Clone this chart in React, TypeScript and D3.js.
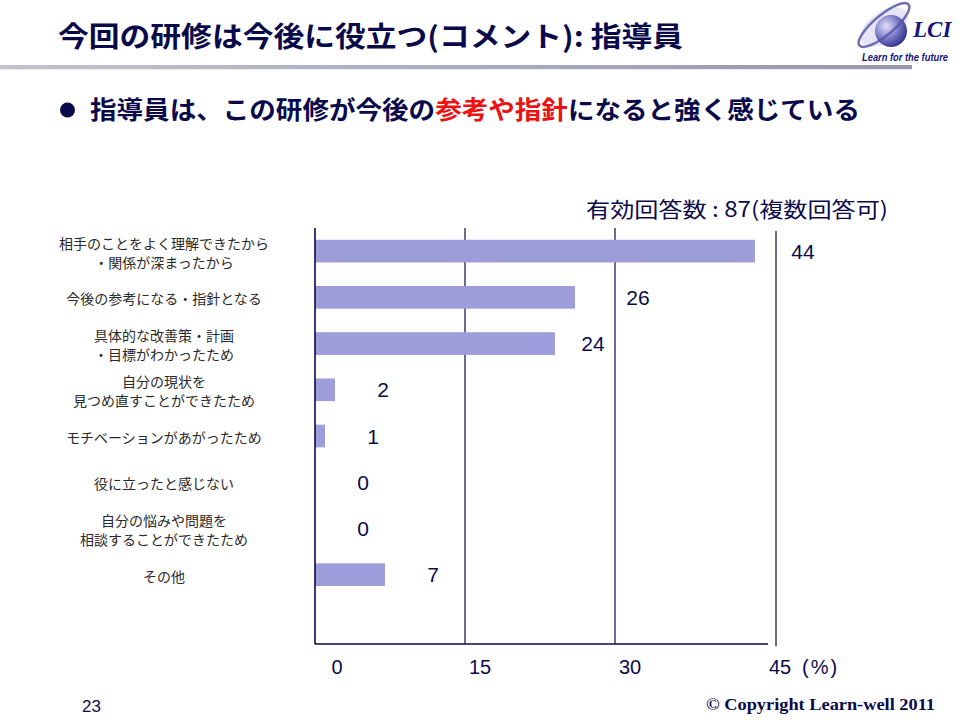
import React from "react";
import * as d3 from "d3";

const categoryLabels: string[][] = [
  ["相手のことをよく理解できたから", "・関係が深まったから"],
  ["今後の参考になる・指針となる"],
  ["具体的な改善策・計画", "・目標がわかったため"],
  ["自分の現状を", "見つめ直すことができたため"],
  ["モチベーションがあがったため"],
  ["役に立ったと感じない"],
  ["自分の悩みや問題を", "相談することができたため"],
  ["その他"],
];
const values: number[] = [44, 26, 24, 2, 1, 0, 0, 7];
const xTicks: number[] = [0, 15, 30, 45];
const gridTicks: number[] = [15, 30];

const titleText = "今回の研修は今後に役立つ(コメント): 指導員";
const subtitleParts: { t: string; red: boolean }[] = [
  { t: "指導員は、この研修が今後の", red: false },
  { t: "参考や指針", red: true },
  { t: "になると強く感じている", red: false },
];
const noteText = "有効回答数 : 87(複数回答可)";
const unitText = "(%)";
const pageNo = "23";
const copyright = "© Copyright Learn-well 2011";

const NAVY = "#0a0a4a";
const BAR = "#9d9ddb";
const CJK = "'Noto Sans CJK JP', 'Noto Sans', sans-serif";
const SANS = "'Liberation Sans', Arial, sans-serif";
const SERIF = "'Liberation Serif', 'Times New Roman', serif";

export default function App() {
  const W = 960;
  const H = 720;
  const top = 228;
  const bottom = 644;

  const x = d3.scaleLinear().domain([0, 45]).range([315, 765]);
  const y = d3
    .scaleBand<number>()
    .domain(d3.range(categoryLabels.length + 1))
    .range([top, bottom])
    .paddingInner(0.51)
    .paddingOuter(0.255);

  // value label x: to the right of the bar end, nudged off the gridlines
  const labelX = (v: number) => {
    let cx = x(v) + 48;
    for (const g of gridTicks) {
      const gx = x(g);
      if (Math.abs(cx - gx) < 14) cx = cx < gx ? gx - 22 : gx + 23;
    }
    return cx;
  };

  return (
    <svg
      width={W}
      height={H}
      viewBox={`0 0 ${W} ${H}`}
      style={{ position: "absolute", left: 0, top: 0, background: "#fff" }}
    >
      <defs>
        <linearGradient id="rule" x1="0" x2="1" y1="0" y2="0">
          <stop offset="0" stopColor="#c2c2d2" />
          <stop offset="1" stopColor="#9696ac" />
        </linearGradient>
        <radialGradient id="globe" cx="0.35" cy="0.35" r="0.75">
          <stop offset="0" stopColor="#e2e2f8" />
          <stop offset="0.5" stopColor="#7c7cc8" />
          <stop offset="1" stopColor="#262680" />
        </radialGradient>
      </defs>

      {/* Title */}
      <text
        x={58}
        y={47}
        fontFamily={CJK}
        fontWeight={700}
        fontSize={28}
        fill={NAVY}
        textLength={625}
        lengthAdjust="spacingAndGlyphs"
      >
        {titleText}
      </text>

      {/* header rule */}
      <rect x={0} y={65} width={912} height={4} fill="url(#rule)" />
      <rect x={0} y={69} width={912} height={1} fill="#ececf2" />

      {/* Logo */}
      <g>
        <ellipse cx={884} cy={27} rx={27} ry={15} transform="rotate(-35 884 27)" fill="#cfcff0" opacity={0.55} />
        <circle cx={891} cy={31} r={16} fill="url(#globe)" />
        <ellipse
          cx={884}
          cy={25}
          rx={32}
          ry={10}
          transform="rotate(-40 884 25)"
          fill="none"
          stroke="#5656a6"
          strokeWidth={2.5}
          opacity={0.85}
        />
        <text x={913} y={37} fontFamily={SERIF} fontStyle="italic" fontWeight={700} fontSize={23} fill="#14147a">
          LCI
        </text>
        <text
          x={862}
          y={61}
          fontFamily={SANS}
          fontStyle="italic"
          fontWeight={700}
          fontSize={10}
          fill="#14147a"
          textLength={86}
          lengthAdjust="spacingAndGlyphs"
        >
          Learn for the future
        </text>
      </g>

      {/* Subtitle */}
      <circle cx={67.5} cy={110} r={7.5} fill={NAVY} />
      <text
        x={90}
        y={119}
        fontFamily={CJK}
        fontWeight={700}
        fontSize={25}
        fill={NAVY}
        textLength={770}
        lengthAdjust="spacingAndGlyphs"
      >
        {subtitleParts.map((p, i) => (
          <tspan key={i} fill={p.red ? "#ee1111" : NAVY}>
            {p.t}
          </tspan>
        ))}
      </text>

      {/* note */}
      <text
        x={586}
        y={217}
        fontFamily={CJK}
        fontSize={21}
        fill={NAVY}
        textLength={302}
        lengthAdjust="spacingAndGlyphs"
      >
        {noteText}
      </text>

      {/* gridlines */}
      {gridTicks.map((t) => (
        <line key={t} x1={x(t)} x2={x(t)} y1={top} y2={bottom} stroke={NAVY} strokeWidth={1.2} />
      ))}

      {/* bars */}
      {values.map((v, i) => (
        <rect key={i} x={x(0)} y={y(i)!} width={x(v) - x(0)} height={y.bandwidth()} fill={BAR} />
      ))}

      {/* axes */}
      <line x1={x(0)} x2={x(0)} y1={top} y2={bottom} stroke={NAVY} strokeWidth={1.6} />
      <line x1={x(0)} x2={x(45) + 3} y1={bottom} y2={bottom} stroke={NAVY} strokeWidth={1.6} />
      <line x1={x(45) + 11} x2={x(45) + 11} y1={top + 3} y2={bottom + 2} stroke={NAVY} strokeWidth={1.2} />

      {/* value labels */}
      {values.map((v, i) => (
        <text
          key={i}
          x={labelX(v)}
          y={y(i)! + y.bandwidth() / 2}
          dy="0.36em"
          textAnchor="middle"
          fontFamily={SANS}
          fontSize={21}
          fill={NAVY}
        >
          {v}
        </text>
      ))}

      {/* category labels */}
      {categoryLabels.map((lines, i) => {
        const cy = y(i)! + y.bandwidth() / 2 + 2;
        const lh = 19;
        const start = cy - ((lines.length - 1) * lh) / 2;
        return (
          <text key={i} textAnchor="middle" fontFamily={CJK} fontSize={14} fill="#2a2a2a">
            {lines.map((l, j) => (
              <tspan key={j} x={164} y={start + j * lh} dy="0.36em">
                {l}
              </tspan>
            ))}
          </text>
        );
      })}

      {/* x tick labels */}
      {xTicks.map((t) => (
        <text
          key={t}
          x={x(t) + (t === 0 ? 22 : 15)}
          y={674}
          textAnchor="middle"
          fontFamily={SANS}
          fontSize={20}
          fill={NAVY}
        >
          {t}
        </text>
      ))}
      <text x={x(45) + 37} y={674} fontFamily={SANS} fontSize={20} fill={NAVY} letterSpacing={2}>
        {unitText}
      </text>

      {/* footer */}
      <text x={82} y={712} fontFamily={SANS} fontSize={17} fill={NAVY}>
        {pageNo}
      </text>
      <text
        x={706}
        y={710}
        fontFamily={SERIF}
        fontWeight={700}
        fontSize={17}
        fill={NAVY}
        textLength={229}
        lengthAdjust="spacingAndGlyphs"
      >
        {copyright}
      </text>
    </svg>
  );
}
